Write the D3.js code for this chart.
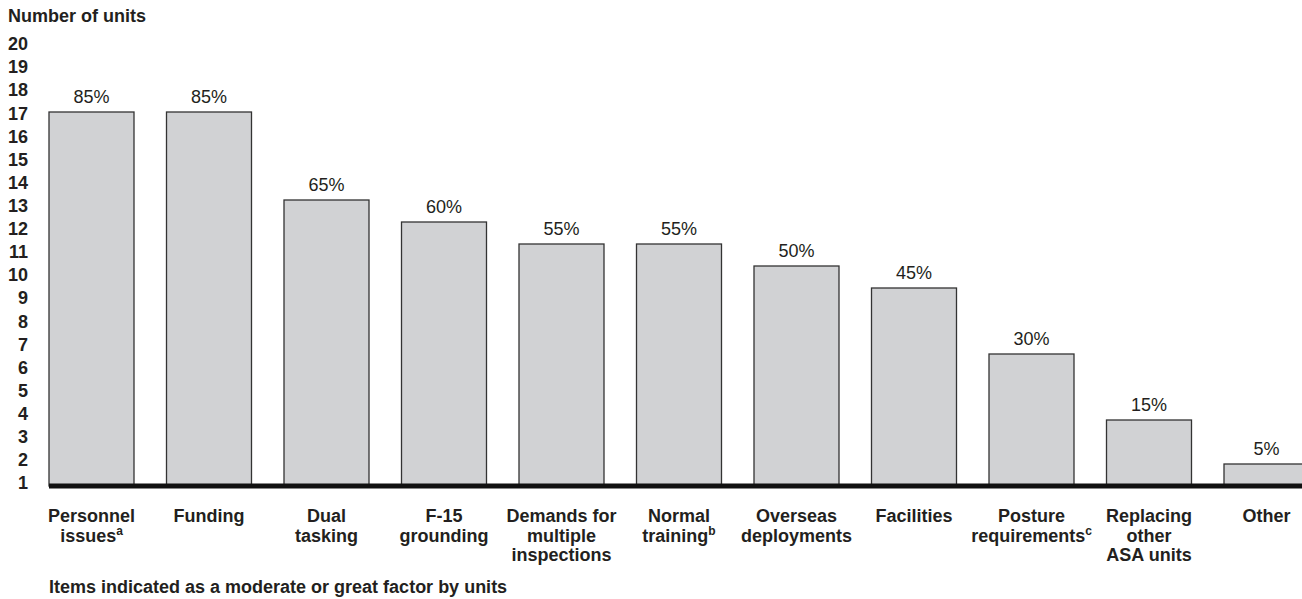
<!DOCTYPE html>
<html>
<head>
<meta charset="utf-8">
<script src="https://cdn.jsdelivr.net/npm/d3@7"></script>
<style>
  html, body { margin: 0; padding: 0; background: #fff; overflow: hidden; }
  svg { display: block; font-family: "Liberation Sans", Arial, sans-serif; }
</style>
</head>
<body>
<div id="chart"></div>
<script>
// Категории (строки подписи, надстрочный индекс)
const categories = [
  { lines: ['Personnel', 'issues'], sup: 'a' },
  { lines: ['Funding'], sup: '' },
  { lines: ['Dual', 'tasking'], sup: '' },
  { lines: ['F-15', 'grounding'], sup: '' },
  { lines: ['Demands for', 'multiple', 'inspections'], sup: '' },
  { lines: ['Normal', 'training'], sup: 'b' },
  { lines: ['Overseas', 'deployments'], sup: '' },
  { lines: ['Facilities'], sup: '' },
  { lines: ['Posture', 'requirements'], sup: 'c' },
  { lines: ['Replacing', 'other', 'ASA units'], sup: '' },
  { lines: ['Other'], sup: '' }
]
const units = [17, 17, 13, 12, 11, 11, 10, 9, 6, 3, 1]
const percents = ['85%', '85%', '65%', '60%', '55%', '55%', '50%', '45%', '30%', '15%', '5%']
const yTicks = d3.range(1, 21)

const width = 1302
const height = 599
const colors = { bar: '#d1d2d4', stroke: '#333', text: '#231f20' }

const svg = d3.select('#chart')
  .append('svg')
  .attr('width', width)
  .attr('height', height)

const keys = categories.map((d, i) => 'c' + i)

// Шкала X: шаг 117.5, первый столбец с x=49
const x = d3.scaleBand()
  .domain(keys)
  .range([32.75, 32.75 + 11 * 117.5])
  .paddingInner(0.2766)
  .paddingOuter(0.1383)

// Шкала Y для столбцов
const y = d3.scaleLinear()
  .domain([0, 20])
  .range([486, 46])

// Подписи оси Y стоят со своим шагом
const yLabel = d3.scaleLinear()
  .domain([1, 20])
  .range([483, 44])

// Заголовок оси Y
svg.append('text')
  .attr('x', 8)
  .attr('y', 22)
  .attr('fill', colors.text)
  .attr('font-size', '18px')
  .attr('font-weight', 'bold')
  .text('Number of units')

// Ось Y
const yAxis = svg.append('g')
  .attr('transform', 'translate(28,0)')
  .call(d3.axisLeft(yLabel).tickValues(yTicks).tickSize(0).tickPadding(0))
yAxis.select('.domain').remove()
yAxis.selectAll('text')
  .attr('fill', colors.text)
  .style('font-size', '18px')
  .style('font-weight', 'bold')
  .style('font-family', '"Liberation Sans", Arial, sans-serif')

// Столбцы
svg.selectAll('.bar')
  .data(units)
  .enter()
  .append('rect')
  .attr('class', 'bar')
  .attr('x', (d, i) => x(keys[i]))
  .attr('y', d => y(d))
  .attr('width', x.bandwidth())
  .attr('height', d => y(0) - y(d))
  .attr('fill', colors.bar)
  .attr('stroke', colors.stroke)
  .attr('stroke-width', 1.3)

// Проценты над столбцами
svg.selectAll('.pct')
  .data(units)
  .enter()
  .append('text')
  .attr('class', 'pct')
  .attr('x', (d, i) => x(keys[i]) + x.bandwidth() / 2)
  .attr('y', d => y(d) - 9)
  .attr('text-anchor', 'middle')
  .attr('fill', colors.text)
  .attr('font-size', '18px')
  .text((d, i) => percents[i])

// Базовая линия
svg.append('line')
  .attr('x1', x(keys[0]))
  .attr('x2', width)
  .attr('y1', y(0))
  .attr('y2', y(0))
  .attr('stroke', '#111')
  .attr('stroke-width', 5)

// Подписи категорий
const labels = svg.selectAll('.cat')
  .data(categories)
  .enter()
  .append('text')
  .attr('class', 'cat')
  .attr('text-anchor', 'middle')
  .attr('fill', colors.text)
  .attr('font-size', '18px')
  .attr('font-weight', 'bold')

labels.each(function (d, i) {
  const t = d3.select(this)
  const cx = x(keys[i]) + x.bandwidth() / 2
  d.lines.forEach((line, j) => {
    t.append('tspan')
      .attr('x', cx)
      .attr('y', 522 + j * 19.5)
      .text(line)
    if (d.sup && j === d.lines.length - 1) {
      t.append('tspan')
        .attr('dy', -7)
        .attr('font-size', '12px')
        .text(d.sup)
    }
  })
})

// Подпись оси X
svg.append('text')
  .attr('x', 49)
  .attr('y', 593)
  .attr('fill', colors.text)
  .attr('font-size', '18px')
  .attr('font-weight', 'bold')
  .text('Items indicated as a moderate or great factor by units')
</script>
</body>
</html>
